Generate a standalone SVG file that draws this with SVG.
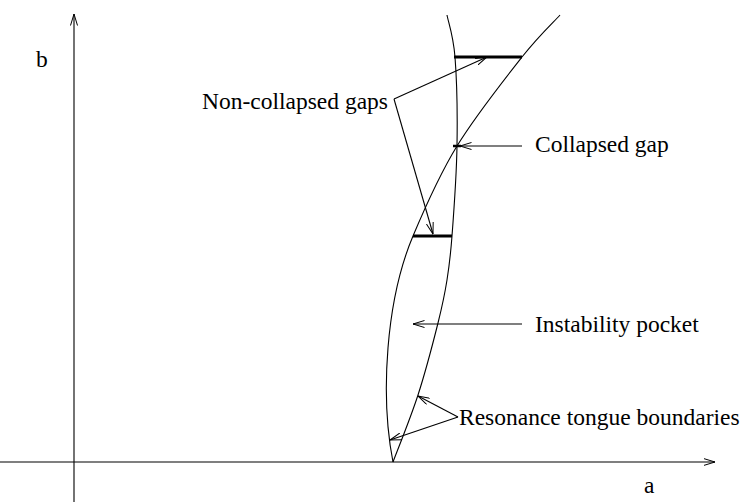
<svg xmlns="http://www.w3.org/2000/svg" width="745" height="502" viewBox="0 0 745 502">
  <style>
    .ln { fill: none; stroke: #000; stroke-width: 1.1; }
    .gap { fill: none; stroke: #000; stroke-width: 3; }
    .lbl { font-family: 'Liberation Serif', 'Times New Roman', serif; font-size: 23.5px; fill: #000; }
  </style>
  <defs>
    <marker id="arr" viewBox="0 0 12 8" refX="11.5" refY="4" markerWidth="12" markerHeight="8" markerUnits="userSpaceOnUse" orient="auto">
      <path d="M0,0.5 L11.5,4 L0,7.5" fill="none" stroke="#000" stroke-width="1"/>
    </marker>
  </defs>
  <rect width="745" height="502" fill="#fff"/>

  <g id="axis-b">
    <line class="ln" x1="74" y1="502" x2="74" y2="14" marker-end="url(#arr)"/>
    <text class="lbl" font-family="Liberation Serif, serif" x="36" y="67">b</text>
  </g>
  <g id="axis-a">
    <line class="ln" x1="0" y1="462" x2="715" y2="462" marker-end="url(#arr)"/>
    <text class="lbl" font-family="Liberation Serif, serif" x="644" y="493">a</text>
  </g>

  <g id="boundary-right">
    <path class="ln" d="M393,462 C397.2,450.8 410.5,418.2 418,395 C425.5,371.8 433.2,342.2 438,323 C442.8,303.8 444.7,294.5 447,280 C449.3,265.5 450.3,258.3 452,236 C453.7,213.7 456.5,175.8 457,146 C457.5,116.2 456.7,78.8 455,57 C453.3,35.2 448.3,22 447,15"/>
  </g>
  <g id="boundary-left">
    <path class="ln" d="M393,462 C380,395 386,300 413,236 C422.4,213.7 438.8,175.8 457,146 C475.2,116.2 504.8,78.8 522,57 C539.2,35.2 553.7,22 560,15"/>
  </g>

  <g id="gap-top">
    <line class="gap" x1="454" y1="57" x2="522" y2="57"/>
  </g>
  <g id="gap-bottom">
    <line class="gap" x1="413" y1="236" x2="452" y2="236"/>
  </g>
  <g id="gap-collapsed">
    <line class="gap" x1="453" y1="146" x2="461" y2="146" style="stroke-width:2.5"/>
  </g>

  <g id="label-noncollapsed">
    <text class="lbl" font-family="Liberation Serif, serif" x="202" y="109">Non-collapsed gaps</text>
  </g>
  <g id="label-collapsed">
    <text class="lbl" font-family="Liberation Serif, serif" x="535" y="152">Collapsed gap</text>
  </g>
  <g id="label-pocket">
    <text class="lbl" font-family="Liberation Serif, serif" x="535" y="332">Instability pocket</text>
  </g>
  <g id="label-resonance">
    <text class="lbl" font-family="Liberation Serif, serif" x="459" y="425">Resonance tongue boundaries</text>
  </g>

  <g id="connectors">
    <line class="ln" x1="394" y1="99" x2="487" y2="57" marker-end="url(#arr)"/>
    <line class="ln" x1="394" y1="99" x2="433" y2="234" marker-end="url(#arr)"/>
    <line class="ln" x1="522" y1="146" x2="460" y2="146" marker-end="url(#arr)"/>
    <line class="ln" x1="522" y1="324" x2="413" y2="324" marker-end="url(#arr)"/>
    <line class="ln" x1="458" y1="417" x2="418" y2="396" marker-end="url(#arr)"/>
    <line class="ln" x1="458" y1="417" x2="390" y2="440" marker-end="url(#arr)"/>
  </g>
</svg>
